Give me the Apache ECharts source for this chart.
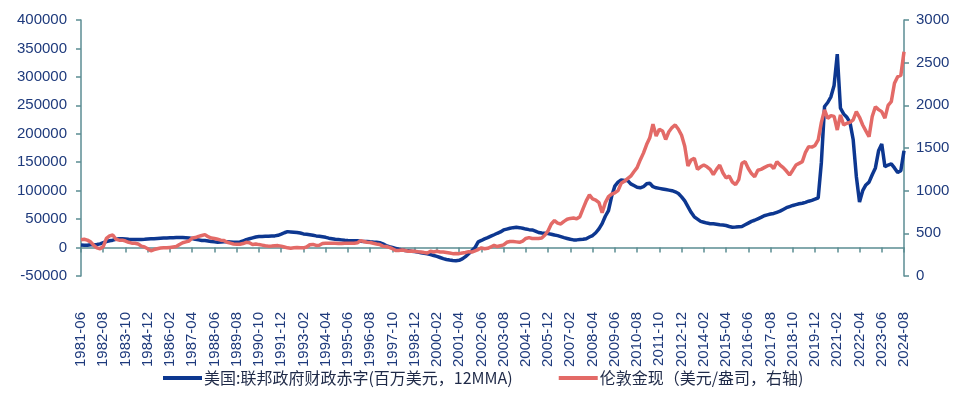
<!DOCTYPE html>
<html>
<head>
<meta charset="utf-8">
<script src="https://cdn.jsdelivr.net/npm/echarts@6/dist/echarts.min.js"></script>
<style>
html,body{margin:0;padding:0;background:#fff;}
#chart{width:969px;height:393px;}
</style>
</head>
<body>
<div id="chart"></div>
<script>
// Monthly timeline: 1981-06 .. 2024-08 (index 0 .. 518); values sampled every 2 months
const startYear = 1981, startMonth = 6, lastIndex = 518, step = 2;
const labelInterval = 14;

const seriesNames = ['美国:联邦政府财政赤字(百万美元，12MMA)', '伦敦金现（美元/盎司，右轴)'];

// US federal deficit, 12MMA, USD mn (left axis)
const deficit = [
  4500, 4000, 4000, 5000,
  5000, 5500, 6500, 8500, 10500, 12000,
  13000, 14500, 15300, 15500, 15000, 14500,
  14200, 14000, 14000, 14200, 14500, 15000,
  15300, 15600, 16000, 16400, 16800, 17000,
  17200, 17400, 17600, 17800, 17600, 17400,
  17000, 16000, 14500, 13500, 12500, 12300,
  11500, 10500, 10000, 9400, 9800, 10000,
  10000, 9800, 9500, 9400, 10000, 11500,
  14000, 15500, 17000, 18500, 19300, 19500,
  19800, 20000, 20500, 20500, 21500, 23500,
  26000, 28000, 27500, 27000, 26500, 25500,
  24000, 23500, 22500, 21500, 20500, 20000,
  19000, 18000, 16500, 15500, 14500, 14000,
  13500, 12800, 12300, 12000, 12000, 11800,
  11100, 10800, 10500, 10000, 9600, 9400,
  8500, 6500, 3500, 1500, 0, -1500,
  -3000, -4100, -5000, -5500, -6500, -7000,
  -8000, -9000, -10000, -11100, -12500, -14000,
  -15500, -17500, -19500, -21000, -22000, -22900,
  -23000, -22500, -20000, -16000, -11000, -5500,
  0, 10000, 12500, 15300, 17500, 20000,
  22500, 25100, 27500, 31000, 32500, 34000,
  35000, 35700, 35000, 34000, 32500, 31500,
  31000, 29000, 26500, 25500, 25000, 24500,
  23500, 22000, 21000, 19300, 17500, 16000,
  14500, 13500, 13500, 14000, 14500, 15500,
  18500, 21100, 26000, 32900, 42000, 55000,
  65000, 90000, 108000, 115000, 119000, 118000,
  118000, 112000, 109000, 106000, 105000, 107000,
  112000, 113000, 107000, 105000, 104000, 103000,
  102000, 101000, 100000, 98000, 95000, 89000,
  82000, 72000, 62000, 54000, 50000, 46000,
  44500, 43000, 42000, 41700, 41000, 40000,
  39500, 38700, 37000, 35700, 36000, 36500,
  37000, 40000, 43000, 46000, 48000, 50500,
  53000, 56000, 57500, 59000, 60000, 62000,
  64000, 67000, 70000, 72100, 74000, 75500,
  77000, 77900, 79500, 81500, 83000, 85000,
  87500, 150000, 248000, 255000, 265000, 285000,
  340000, 245000, 235000, 229000, 220000, 190000,
  125000, 80000, 100000, 110000, 115000, 128000,
  140000, 170000, 182000, 142000, 145000, 147000,
  140000, 132000, 135000, 170000
];

// London gold spot, USD/oz (right axis)
const gold = [
  425, 430, 420, 400,
  360, 330, 320, 345, 440, 470,
  480, 430, 420, 420, 410, 395,
  385, 383, 375, 350, 340, 320,
  295, 310, 320, 328, 330, 330,
  335, 340, 345, 370, 390, 400,
  410, 445, 450, 465, 475, 485,
  460, 445, 440, 430, 420, 415,
  395, 385, 375, 372, 372, 380,
  395, 390, 370, 375, 368, 362,
  355, 350, 352, 355, 356, 350,
  340, 330, 325, 330, 335, 332,
  330, 340, 366, 370, 358, 360,
  380, 385, 385, 383, 385, 380,
  380, 385, 385, 385, 383, 390,
  415, 405, 395, 392, 383, 375,
  370, 350, 345, 335, 320, 300,
  300, 305, 298, 290, 293, 290,
  285, 282, 275, 270, 290, 282,
  290, 282, 280, 275, 270, 262,
  263, 262, 270, 275, 285, 280,
  295, 310, 330, 320, 325, 340,
  360, 345, 355, 365, 395, 405,
  405, 400, 395, 410, 440, 450,
  440, 440, 440, 445, 480, 530,
  610, 650, 620, 610, 640, 665,
  675, 680, 670, 695, 790, 880,
  950, 905, 890, 860, 740, 860,
  930, 960, 975, 1000, 1086, 1110,
  1140, 1170, 1222, 1270, 1360, 1440,
  1540, 1620, 1780, 1640, 1720, 1700,
  1600, 1690, 1740, 1770, 1720, 1650,
  1520, 1290, 1360, 1380, 1250, 1280,
  1300, 1280, 1250, 1190, 1250, 1300,
  1210, 1150, 1170, 1100, 1070, 1130,
  1321, 1340, 1260, 1200, 1164, 1240,
  1250, 1270, 1290, 1300, 1260, 1340,
  1300, 1270, 1230, 1184, 1240, 1300,
  1320, 1340, 1450, 1516, 1510, 1530,
  1594, 1800, 1946, 1848, 1880, 1870,
  1711, 1887, 1770, 1790, 1800, 1830,
  1926, 1860, 1770, 1700, 1633, 1870,
  1984, 1950, 1926, 1850, 2000, 2043,
  2258, 2336, 2350, 2629
];

function monthLabel(idx) {
  const m0 = startMonth - 1 + idx;
  const y = startYear + Math.floor(m0 / 12);
  const m = (m0 % 12) + 1;
  return y + '-' + (m < 10 ? '0' + m : m);
}
const deficitData = deficit.map((v, i) => [i * step, v]);
const goldData = gold.map((v, i) => [i * step, v]);

const axisColor = '#5b8d93';
const labelColor = '#1e3a7c';
const fontFam = '"Liberation Sans", Arial, "Noto Sans CJK SC", sans-serif';

const chart = echarts.init(document.getElementById('chart'), null, {renderer: 'canvas'});
chart.setOption({
  animation: false,
  backgroundColor: '#ffffff',
  grid: {left: 81, right: 65, top: 20, bottom: 117, containLabel: false},
  legend: {
    left: 158, top: 365,
    itemWidth: 39, itemHeight: 4, itemGap: 46,
    icon: 'rect',
    textStyle: {fontSize: 16, color: '#1f2a48', fontFamily: '"Noto Sans CJK SC", "Liberation Sans", sans-serif', padding: [0, 0, 0, -3]},
    data: seriesNames
  },
  xAxis: {
    type: 'value',
    min: 0, max: lastIndex, interval: labelInterval,
    splitLine: {show: false},
    axisLine: {show: true, onZero: true, lineStyle: {color: axisColor, width: 1.5}},
    axisTick: {show: true, length: 5, lineStyle: {color: axisColor, width: 1.5}},
    axisLabel: {
      rotate: 90, margin: 36, fontSize: 15, color: labelColor, fontFamily: fontFam,
      formatter: v => monthLabel(v)
    }
  },
  yAxis: [
    {
      type: 'value', position: 'left',
      min: -50000, max: 400000, interval: 50000,
      splitLine: {show: false},
      axisLine: {show: true, lineStyle: {color: axisColor, width: 1.5}},
      axisTick: {show: true, length: 5, lineStyle: {color: axisColor, width: 1.5}},
      axisLabel: {fontSize: 15, color: labelColor, fontFamily: fontFam, margin: 14, formatter: v => String(v)}
    },
    {
      type: 'value', position: 'right',
      min: 0, max: 3000, interval: 500,
      splitLine: {show: false},
      axisLine: {show: true, lineStyle: {color: axisColor, width: 1.5}},
      axisTick: {show: true, length: 5, lineStyle: {color: axisColor, width: 1.5}},
      axisLabel: {fontSize: 15, color: labelColor, fontFamily: fontFam, margin: 12, formatter: v => String(v)}
    }
  ],
  series: [
    {
      name: seriesNames[0], type: 'line', yAxisIndex: 0,
      data: deficitData, showSymbol: false, symbol: 'none',
      lineStyle: {color: '#0d3790', width: 3.5},
      itemStyle: {color: '#0d3790'}
    },
    {
      name: seriesNames[1], type: 'line', yAxisIndex: 1,
      data: goldData, showSymbol: false, symbol: 'none',
      lineStyle: {color: '#e36a67', width: 3.5},
      itemStyle: {color: '#e36a67'}
    }
  ]
});
</script>
</body>
</html>
